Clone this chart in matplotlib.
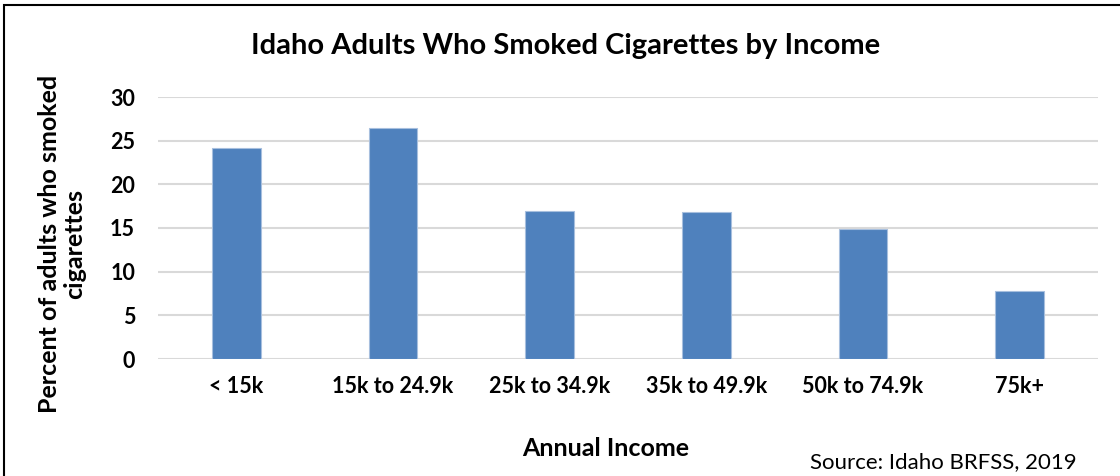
import matplotlib
matplotlib.use("Agg")
import matplotlib.pyplot as plt
from matplotlib.patches import Rectangle

categories = ["< 15k", "15k to 24.9k", "25k to 34.9k", "35k to 49.9k", "50k to 74.9k", "75k+"]
values = [24.2, 26.5, 17.0, 16.8, 14.9, 7.8]
yticks = [0, 5, 10, 15, 20, 25, 30]

plt.rcParams['font.family'] = ['Lato', 'DejaVu Sans']

W, H = 1120, 476
fig = plt.figure(figsize=(W / 100, H / 100), dpi=100)
fig.patch.set_facecolor("white")

# outer frame
fig.patches.append(Rectangle((4 / W, -0.1), 1.2, 1 - 5 / H + 0.1, transform=fig.transFigure,
                             fill=False, edgecolor="black", linewidth=1.5, zorder=10))

ax = fig.add_axes([158 / W, 1 - 359 / H, (1098 - 158) / W, (359 - 97) / H])
x = list(range(len(categories)))
ax.bar(x, values, width=0.31, color="#4f81bd", edgecolor="#a7bfde", linewidth=0.8, zorder=3)
ax.set_xlim(-0.5, len(categories) - 0.5)
ax.set_ylim(0, 30)
ax.set_yticks(yticks)
ax.set_yticklabels([str(v) for v in yticks], fontsize=15.5, fontweight="bold")
ax.set_xticks(x)
ax.set_xticklabels(categories, fontsize=15.5, fontweight="bold")
ax.tick_params(axis="both", length=0)
ax.tick_params(axis="y", pad=16.5)
ax.tick_params(axis="x", pad=12)
ax.yaxis.grid(True, color="#d9d9d9", linewidth=1.5, zorder=0)
ax.set_axisbelow(True)
for s in ax.spines.values():
    s.set_visible(False)

fig.text(566 / W, 1 - 46 / H, "Idaho Adults Who Smoked Cigarettes by Income", ha="center", va="center",
         fontsize=21, fontweight="bold")
fig.text(62 / W, 1 - 244 / H, "Percent of adults who smoked\ncigarettes", ha="center", va="center",
         rotation=90, fontsize=18, fontweight="bold", linespacing=1.15)
fig.text(606 / W, 1 - 448 / H, "Annual Income", ha="center", va="center", fontsize=18, fontweight="bold")
fig.text(943 / W, 1 - 462 / H, "Source: Idaho BRFSS, 2019", ha="center", va="center", fontsize=16)

fig.savefig("out.png", dpi=100)
